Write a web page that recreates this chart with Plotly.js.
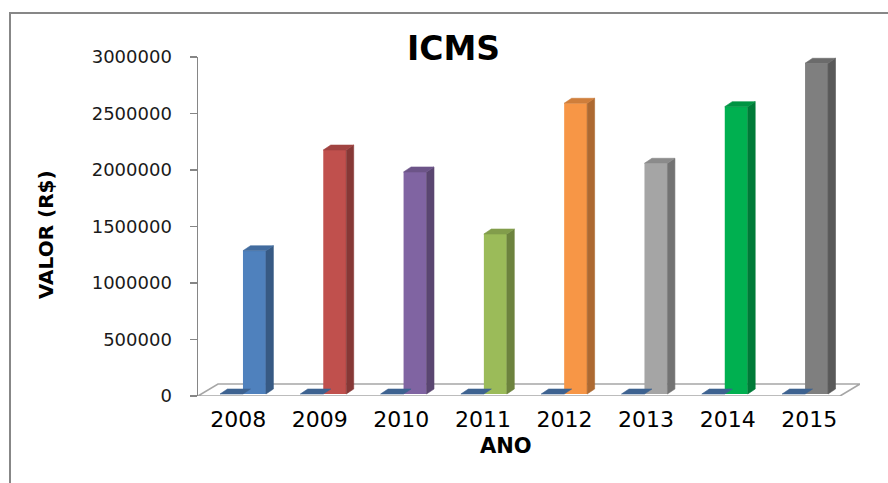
<!DOCTYPE html>
<html>
<head>
<meta charset="utf-8">
<script src="https://cdn.plot.ly/plotly-3.0.1.min.js"></script>
<style>
  html, body { margin: 0; padding: 0; background: #ffffff; overflow: hidden; }
  #grafico { position: absolute; left: 0; top: 0; width: 888px; height: 483px; }
  #moldura { position: absolute; left: 9px; top: 12px; right: -20px; bottom: -20px;
             border: 2px solid #878787; pointer-events: none; }
</style>
</head>
<body>
<div id="grafico"></div>
<div id="moldura"></div>
<script>
// ICMS arrecadado por ano (R$)
const anos = ['2008', '2009', '2010', '2011', '2012', '2013', '2014', '2015'];
const valores = [1268000, 2159000, 1965000, 1416000, 2573000, 2042000, 2543000, 2927000];
// segunda série da planilha, sem valores (aparece só como a tampa no piso)
const serieVazia = [0, 0, 0, 0, 0, 0, 0, 0];
const coresAnos = ['#4f81bd', '#c0504d', '#8064a2', '#9bbb59', '#f79646', '#a5a5a5', '#00b050', '#7f7f7f'];
const corSerieVazia = '#4a78b0';

// geometria do efeito 3D (unidades dos eixos)
const LARG = 0.286;      // largura de cada coluna, em categorias
const PROF_X = 0.093;    // profundidade da coluna no eixo x
const PROF_Y = 44000;    // profundidade da coluna no eixo y
const BASE = 17700;      // colunas recuadas em relação à borda frontal do piso
const PISO = { x0: -0.56, x1: 7.435, dx: 0.249, dy: 106000 };

function escurecer(hex, f) {
  const n = parseInt(hex.slice(1), 16);
  const r = Math.round(((n >> 16) & 255) * f);
  const g = Math.round(((n >> 8) & 255) * f);
  const b = Math.round((n & 255) * f);
  return 'rgb(' + r + ',' + g + ',' + b + ')';
}

function face(xs, ys, cor) {
  return {
    type: 'scatter', mode: 'lines', x: xs, y: ys,
    fill: 'toself', fillcolor: cor,
    line: { width: 0.6, color: cor },
    hoverinfo: 'skip', showlegend: false
  };
}

const idx = anos.map((_, i) => i);
const traces = [];

// faces frontais: série vazia à esquerda, valores à direita de cada ano
traces.push({
  type: 'bar', x: idx.map(i => i - LARG / 2), y: serieVazia, base: BASE, width: LARG,
  marker: { color: corSerieVazia, line: { width: 0 } }, hoverinfo: 'skip', showlegend: false
});
traces.push({
  type: 'bar', x: idx.map(i => i + LARG / 2), y: valores, base: BASE, width: LARG,
  marker: { color: coresAnos, line: { width: 0 } }, hoverinfo: 'skip', showlegend: false
});

// laterais e tampas das colunas
function faces3d(x0, v, cor, corLado, corTopo) {
  const x1 = x0 + LARG;
  const topo = BASE + v;
  if (v > 0) {
    traces.push(face(
      [x1, x1 + PROF_X, x1 + PROF_X, x1, x1],
      [BASE, BASE + PROF_Y, topo + PROF_Y, topo, BASE], corLado));
  }
  traces.push(face(
    [x0, x1, x1 + PROF_X, x0 + PROF_X, x0],
    [topo, topo, topo + PROF_Y, topo + PROF_Y, topo], corTopo));
}

idx.forEach(i => {
  faces3d(i - LARG, serieVazia[i], corSerieVazia, escurecer(corSerieVazia, 0.7), escurecer(corSerieVazia, 0.82));
  faces3d(i, valores[i], coresAnos[i], escurecer(coresAnos[i], 0.7), escurecer(coresAnos[i], 0.84));
});

// piso do gráfico
const pisoPath =
  'M' + PISO.x0 + ',0' +
  ' L' + PISO.x1 + ',0' +
  ' L' + (PISO.x1 + PISO.dx) + ',' + PISO.dy +
  ' L' + (PISO.x0 + PISO.dx) + ',' + PISO.dy + ' Z';

const layout = {
  width: 888, height: 483,
  margin: { l: 198, r: 28, t: 57, b: 87 },
  paper_bgcolor: '#ffffff', plot_bgcolor: '#ffffff',
  barmode: 'overlay',
  showlegend: false,
  title: {
    text: '<b>ICMS</b>',
    font: { family: 'DejaVu Sans', size: 33, color: '#000000' },
    xref: 'container', yref: 'container',
    x: 453.5 / 888, xanchor: 'center',
    y: 1 - 48 / 483, yanchor: 'middle'
  },
  xaxis: {
    range: [PISO.x0, PISO.x1 + PISO.dx],
    tickvals: idx.map(i => i - 0.06 + 0.016 * i),
    ticktext: anos,
    ticks: '', showline: false, showgrid: false, zeroline: false,
    tickfont: { family: 'DejaVu Sans', size: 22, color: '#000000' },
    ticklabelstandoff: 8,
    fixedrange: true
  },
  yaxis: {
    range: [0, 3000000],
    tickvals: [0, 500000, 1000000, 1500000, 2000000, 2500000, 3000000],
    ticktext: ['0', '500000', '1000000', '1500000', '2000000', '2500000', '3000000'],
    ticks: 'outside', ticklen: 7, tickcolor: '#868686', tickwidth: 1.5,
    showline: true, linecolor: '#868686', linewidth: 1.5,
    showgrid: false, zeroline: false,
    tickfont: { family: 'DejaVu Sans', size: 18, color: '#1a1a1a' },
    ticklabelstandoff: 14,
    fixedrange: true
  },
  shapes: [{
    type: 'path', xref: 'x', yref: 'y', layer: 'below',
    path: pisoPath, fillcolor: '#ffffff',
    line: { color: '#a6a6a6', width: 1.6 }
  }],
  annotations: [
    {
      text: '<b>VALOR (R$)</b>', xref: 'paper', yref: 'paper',
      x: (46 - 198) / 662, y: (396 - 235) / 339,
      xanchor: 'center', yanchor: 'middle', textangle: -90, showarrow: false,
      font: { family: 'DejaVu Sans', size: 20, color: '#000000' }
    },
    {
      text: '<b>ANO</b>', xref: 'paper', yref: 'paper',
      x: (506 - 198) / 662, y: -(446 - 396) / 339,
      xanchor: 'center', yanchor: 'middle', showarrow: false,
      font: { family: 'DejaVu Sans', size: 21, color: '#000000' }
    }
  ]
};

Plotly.newPlot('grafico', traces, layout, { staticPlot: true, displayModeBar: false });
</script>
</body>
</html>
